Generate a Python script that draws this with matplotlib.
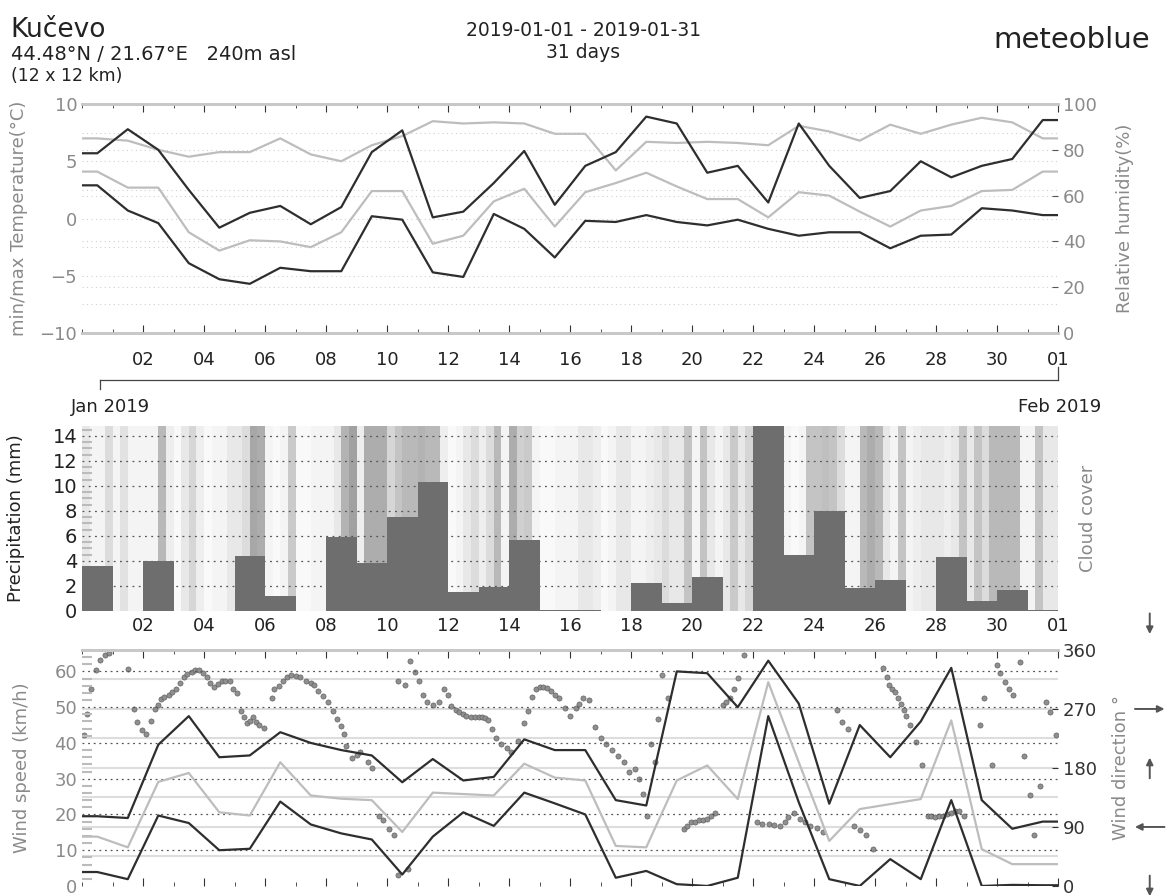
import matplotlib
matplotlib.use("Agg")
import matplotlib.pyplot as plt
import numpy as np
from matplotlib.colors import LinearSegmentedColormap
from matplotlib.ticker import MultipleLocator
import matplotlib.transforms as mtransforms

# --- data, one value per day, 32 days on the axis ---
temp_max = [5.7, 7.8, 6.0, 2.5, -0.8, 0.5, 1.1, -0.5, 1.0, 5.8, 7.7, 0.1, 0.6, 3.1, 5.9, 1.2,
            4.6, 5.8, 8.9, 8.3, 4.0, 4.6, 1.4, 8.3, 4.6, 1.8, 2.4, 5.0, 3.6, 4.6, 5.2, 8.6]
temp_mean = [4.1, 2.7, 2.7, -1.2, -2.8, -1.9, -2.0, -2.5, -1.2, 2.4, 2.4, -2.2, -1.5, 1.5, 2.6, -0.7,
             2.3, 3.1, 4.0, 2.8, 1.7, 1.7, 0.1, 2.3, 2.0, 0.6, -0.7, 0.7, 1.1, 2.4, 2.5, 4.1]
temp_min = [2.9, 0.7, -0.4, -3.9, -5.3, -5.7, -4.3, -4.6, -4.6, 0.2, -0.1, -4.7, -5.1, 0.4, -0.9, -3.4,
            -0.2, -0.3, 0.3, -0.3, -0.6, -0.1, -0.9, -1.5, -1.2, -1.2, -2.6, -1.5, -1.4, 0.9, 0.7, 0.3]
humidity = [85, 84, 80, 77, 79, 79, 85, 78, 75, 82, 86, 92.5, 91.5, 92, 91.5, 87,
            87, 71, 83.5, 83, 83.5, 83, 82, 90.5, 88, 84, 91, 87, 91, 94, 92, 85]

precip = [3.6, 0, 4.0, 0, 0, 4.4, 1.2, 0, 5.9, 3.8, 7.5, 10.3, 1.5, 1.9, 5.7, 0.1,
          0.1, 0, 2.2, 0.6, 2.7, 0, 16.0, 4.5, 8.0, 1.8, 2.5, 0, 4.3, 0.8, 1.7, 0.1]

# cloud cover per 6 hours (fraction)
cloud = [0.2, 0.1, 0.1, 0.3,  0.1, 0.25, 0.1, 0.1,  0.1, 0.1, 0.6, 0.15,  0.05, 0.2, 0.35, 0.15,
         0.05, 0.1, 0.1, 0.2,  0.2, 0.3, 0.75, 0.7,  0.1, 0.05, 0.1, 0.45,  0.05, 0.05, 0.1, 0.1,
         0.1, 0.2, 0.65, 0.8,  0.15, 0.7, 0.7, 0.7,  0.35, 0.5, 0.6, 0.6,  0.65, 0.6, 0.6, 0.15,
         0.05, 0.1, 0.2, 0.3,  0.15, 0.3, 0.6, 0.1,  0.7, 0.4, 0.45, 0.1,  0.05, 0.05, 0.1, 0.1,
         0.1, 0.2, 0.2, 0.15,  0.05, 0.1, 0.2, 0.2,  0.1, 0.1, 0.15, 0.2,  0.3, 0.2, 0.2, 0.5,
         0.1, 0.5, 0.2, 0.1,  0.2, 0.45, 0.2, 0.35,  0.8, 0.8, 0.8, 0.8,  0.1, 0.05, 0.1, 0.5,
         0.5, 0.55, 0.5, 0.3,  0.1, 0.1, 0.6, 0.7,  0.6, 0.2, 0.1, 0.5,  0.1, 0.15, 0.2, 0.2,
         0.2, 0.15, 0.2, 0.5,  0.2, 0.5, 0.3, 0.6,  0.6, 0.6, 0.6, 0.1,  0.1, 0.5, 0.2, 0.2]

wind_max = [19.5, 19.0, 39.5, 47.5, 36.0, 36.5, 43.0, 40.0, 38.0, 36.5, 29.0, 35.5, 29.5, 30.5, 41.0, 38.0,
            38.0, 24.0, 22.5, 60.0, 59.5, 50.0, 63.0, 51.0, 23.0, 45.0, 36.0, 46.0, 61.0, 24.0, 16.0, 18.0]
wind_mean = [13.8, 10.8, 29.1, 31.6, 20.6, 19.7, 34.6, 25.3, 24.4, 24.0, 15.1, 26.1, 25.7, 25.3, 34.2, 30.3,
             29.5, 11.2, 10.8, 29.5, 33.7, 24.3, 57.0, 34.6, 12.6, 21.5, 22.9, 24.3, 46.3, 10.3, 6.1, 6.1]
wind_min = [3.9, 1.9, 19.7, 17.6, 10.0, 10.4, 23.6, 17.2, 14.7, 13.0, 3.2, 13.8, 20.6, 16.8, 26.1, 23.1,
            20.0, 2.3, 4.2, 0.5, 0.0, 2.3, 47.5, 23.4, 1.9, 0.0, 7.5, 1.9, 24.0, 0.0, 0.3, 0.2]

# wind direction samples: time (days on axis) and direction (deg)
dir_time = [0.05, 0.15, 0.3, 0.45, 0.6, 0.75, 0.9, 1.52, 1.7, 1.8, 1.95, 2.1, 2.27, 2.4, 2.5, 2.58, 2.7,
            2.84, 2.95, 3.09, 3.2, 3.34, 3.45, 3.59, 3.7, 3.84, 3.95, 4.09, 4.2, 4.34, 4.45, 4.6, 4.7,
            4.84, 4.95, 5.09, 5.22, 5.3, 5.4, 5.5, 5.6, 5.7, 5.8, 5.97, 6.22, 6.3, 6.45, 6.6, 6.72,
            6.85, 7.0, 7.15, 7.35, 7.5, 7.6, 7.75, 7.9, 8.05, 8.23, 8.35, 8.48, 8.6, 8.67, 8.86, 9.0,
            9.1, 9.36, 9.5, 9.73, 9.86, 10.05, 10.24, 10.36, 10.68, 10.36, 10.6, 10.74, 10.93, 11.05,
            11.18, 11.3, 11.5, 11.7, 11.87, 12.0, 12.1, 12.25, 12.37, 12.5, 12.6, 12.75, 12.87, 13.0,
            13.1, 13.2, 13.3, 13.44, 13.56, 13.75, 13.94, 14.07, 14.3, 14.5, 14.63, 14.75, 14.88, 15.0,
            15.13, 15.25, 15.38, 15.5, 15.63, 15.82, 16.0, 16.18, 16.3, 16.43, 16.62, 16.81, 17.0,
            17.19, 17.38, 17.57, 17.76, 17.95, 18.14, 18.27, 18.4, 18.53, 18.65, 18.78, 18.9, 19.03,
            19.22, 19.73, 19.85, 19.98, 20.1, 20.24, 20.36, 20.49, 20.62, 20.75, 21.0, 21.12, 21.25,
            21.38, 21.51, 21.7, 22.14, 22.3, 22.52, 22.7, 22.9, 23.05, 23.16, 23.35, 23.54, 23.7,
            23.86, 24.11, 24.3, 24.74, 24.93, 25.12, 25.31, 25.5, 25.69, 25.95, 26.27, 26.38, 26.46,
            26.55, 26.65, 26.75, 26.84, 26.95, 27.03, 27.16, 27.35, 27.54, 27.73, 27.85, 27.98, 28.1,
            28.23, 28.36, 28.49, 28.62, 28.74, 28.93, 29.44, 29.57, 29.82, 30.0, 30.1, 30.26, 30.4,
            30.52, 30.77, 30.9, 31.09, 31.22, 31.41, 31.6, 31.73, 31.92]
dir_deg = [230, 262, 300, 330, 345, 352, 355, 331, 270, 250, 238, 232, 251, 270, 276, 285, 289,
           292, 296, 301, 310, 318, 323, 327, 330, 329, 325, 318, 310, 304, 308, 313, 313,
           312, 300, 294, 267, 258, 249, 252, 257, 250, 246, 241, 286, 300, 305, 313, 318,
           322, 320, 318, 313, 310, 306, 298, 290, 280, 267, 255, 244, 232, 214, 195, 200,
           205, 189, 180, 107, 100, 87, 77, 17, 26, 313, 306, 343, 327, 313,
           292, 281, 276, 280, 300, 292, 274, 268, 265, 262, 260, 258, 257, 257,
           257, 256, 253, 240, 226, 217, 210, 205, 221, 248, 267, 288, 300, 303,
           304, 302, 298, 292, 286, 272, 260, 271, 278, 286, 283, 243, 225,
           217, 207, 199, 189, 174, 179, 163, 140, 107, 217, 189, 255, 322,
           286, 87, 92, 97, 98, 100, 101, 102, 106, 112, 276, 280, 286,
           300, 317, 352, 97, 95, 94, 93, 92, 98, 105, 112, 102, 97,
           92, 89, 82, 268, 250, 240, 92, 85, 77, 56, 332, 318, 306,
           300, 296, 286, 278, 268, 260, 245, 220, 184, 107, 106, 105, 106,
           107, 110, 112, 114, 115, 107, 245, 286, 184, 337, 325, 311, 300,
           291, 342, 199, 138, 77, 153, 281, 266, 230]

day_ticks = np.arange(2, 33, 2)
day_labels = ["02", "04", "06", "08", "10", "12", "14", "16", "18", "20",
              "22", "24", "26", "28", "30", "01"]

n_days = len(temp_max)
t_day = np.arange(n_days) + 0.5
t_ext = np.r_[0, t_day, n_days]


def ext(v):
    v = np.asarray(v, dtype=float)
    return np.r_[v[0], v, v[-1]]


DARK = "#2e2e2e"
LIGHT = "#bdbdbd"
GREY_TXT = "#8a8a8a"
plt.rcParams["font.family"] = "DejaVu Sans"

fig = plt.figure(figsize=(11.67, 8.96), dpi=100)

ax1 = fig.add_axes([0.0703, 0.6283, 0.8363, 0.2556])
ax2 = fig.add_axes([0.0703, 0.3181, 0.8363, 0.2065])
ax3 = fig.add_axes([0.0703, 0.0112, 0.8363, 0.2634])


def style_x(ax, labels=True, pad=4):
    ax.set_xlim(0, n_days)
    ax.set_xticks(day_ticks)
    ax.xaxis.set_minor_locator(MultipleLocator(1))
    if labels:
        ax.set_xticklabels(day_labels, fontsize=13, color="#222222")
    else:
        ax.set_xticklabels([])
    ax.tick_params(axis="x", which="both", direction="in", top=True, bottom=True,
                   color="#333333", pad=pad)
    ax.tick_params(axis="x", which="major", length=6)
    ax.tick_params(axis="x", which="minor", length=3)


# --- temperature / humidity ---
ax1r = ax1.twinx()
ax1.set_ylim(-10, 10)
ax1r.set_ylim(0, 100)
for v in np.arange(-7.5, 10, 2.5):
    ax1.axhline(v, color="#d0d0d0", lw=0.8, ls=(0, (1, 3)), zorder=0)
for v in [20, 40, 60, 80]:
    ax1r.axhline(v, color="#d0d0d0", lw=0.8, ls=(0, (1, 3)), zorder=0)
ax1r.plot(t_ext, ext(humidity), color=LIGHT, lw=1.6, zorder=2)
ax1.plot(t_ext, ext(temp_mean), color=LIGHT, lw=1.6, zorder=3)
ax1.plot(t_ext, ext(temp_max), color=DARK, lw=1.6, zorder=4)
ax1.plot(t_ext, ext(temp_min), color=DARK, lw=1.6, zorder=4)
ax1.set_zorder(ax1r.get_zorder() + 1)
ax1.patch.set_visible(False)
style_x(ax1, pad=13)
ax1.set_yticks([-10, -5, 0, 5, 10])
ax1.tick_params(axis="y", labelsize=13, labelcolor=GREY_TXT, length=0)
ax1r.set_yticks([0, 20, 40, 60, 80, 100])
ax1r.tick_params(axis="y", labelsize=13, labelcolor=GREY_TXT, length=4, color="#555555", direction="in")
ax1.set_ylabel("min/max Temperature(°C)", fontsize=13, color=GREY_TXT)
ax1.yaxis.set_label_coords(-0.055, 0.5)
ax1r.set_ylabel("Relative humidity(%)", fontsize=13, color=GREY_TXT, rotation=90)
ax1r.yaxis.set_label_coords(1.059, 0.5)
for a in (ax1, ax1r):
    a.spines["left"].set_visible(False)
    a.spines["right"].set_visible(False)
    a.spines["top"].set_color("#c8c8c8")
    a.spines["bottom"].set_color("#c8c8c8")
    a.spines["top"].set_linewidth(2)
    a.spines["bottom"].set_linewidth(2)

# date span bracket
fig.add_artist(plt.Line2D([0.0857, 0.9066], [0.576, 0.576], color="#444444", lw=0.9))
fig.add_artist(plt.Line2D([0.0857, 0.0857], [0.576, 0.566], color="#444444", lw=0.9))
fig.add_artist(plt.Line2D([0.9066, 0.9066], [0.576, 0.590], color="#444444", lw=0.9))
fig.text(0.061, 0.546, "Jan 2019", fontsize=13, color="#222222", va="center")
fig.text(0.944, 0.546, "Feb 2019", fontsize=13, color="#222222", va="center", ha="right")

# --- precipitation / cloud cover ---
cc_cmap = LinearSegmentedColormap.from_list("cc", ["#ffffff", "#8a8a8a"])
cloud_edges = np.linspace(0, n_days, len(cloud) + 1)
ax2.pcolormesh(cloud_edges, [0, 20], np.array(cloud)[np.newaxis, :], cmap=cc_cmap,
               vmin=0, vmax=1, zorder=0)
ax2.bar(np.arange(n_days), precip, width=1, align="edge", color="#6e6e6e", zorder=3)
for v in range(2, 15, 2):
    ax2.axhline(v, color="#555555", lw=0.9, ls=(0, (1.5, 3.5)), zorder=2)
ax2.set_ylim(0, 14.8)
ax2.set_yticks(range(0, 15, 2))
ax2.yaxis.set_minor_locator(MultipleLocator(0.5))
ax2.tick_params(axis="y", which="major", labelsize=14, labelcolor="#222222", length=0)
ax2.tick_params(axis="y", which="minor", direction="in", length=7, color="#bbbbbb", width=1.5)
style_x(ax2, pad=4)
ax2.tick_params(axis="x", which="both", top=False, length=0)
ax2.set_ylabel("Precipitation (mm)", fontsize=13, color="#222222")
ax2.yaxis.set_label_coords(-0.058, 0.5)
ax2.text(1.031, 0.5, "Cloud cover", transform=ax2.transAxes, rotation=90, fontsize=13,
         color=GREY_TXT, ha="center", va="center")
for s in ax2.spines.values():
    s.set_visible(False)

# --- wind speed / direction ---
ax3r = ax3.twinx()
ax3.set_ylim(0, 66)
ax3r.set_ylim(0, 360)
for v in range(10, 61, 10):
    ax3.axhline(v, color="#555555", lw=0.9, ls=(0, (1.5, 3)), zorder=1)
for v in [45, 90, 135, 180, 225, 270, 315]:
    ax3r.axhline(v, color="#dddddd", lw=1.5, zorder=0)
ax3.plot(t_ext, ext(wind_mean), color=LIGHT, lw=1.6, zorder=3)
ax3.plot(t_ext, ext(wind_max), color=DARK, lw=1.6, zorder=4)
ax3.plot(t_ext, ext(wind_min), color=DARK, lw=1.6, zorder=4)
ax3r.scatter(dir_time, dir_deg, s=14, color="#8f8f8f", edgecolors="#555555", linewidths=0.4,
             zorder=2)
ax3.set_zorder(ax3r.get_zorder() + 1)
ax3.patch.set_visible(False)
style_x(ax3, labels=False)
ax3.set_yticks(range(0, 61, 10))
ax3.yaxis.set_minor_locator(MultipleLocator(2))
ax3.tick_params(axis="y", which="major", labelsize=13, labelcolor=GREY_TXT, length=0)
ax3.tick_params(axis="y", which="minor", direction="in", length=7, color="#bbbbbb", width=1.5)
ax3r.set_yticks([0, 90, 180, 270, 360])
ax3r.tick_params(axis="y", labelsize=13, labelcolor="#333333", length=4, direction="in",
                 color="#333333")
ax3.set_ylabel("Wind speed (km/h)", fontsize=13, color=GREY_TXT)
ax3.yaxis.set_label_coords(-0.052, 0.5)
ax3r.set_ylabel("Wind direction °", fontsize=13, color=GREY_TXT)
ax3r.yaxis.set_label_coords(1.055, 0.5)
for a in (ax3, ax3r):
    a.spines["left"].set_visible(False)
    a.spines["right"].set_visible(False)
    a.spines["bottom"].set_visible(False)
    a.spines["top"].set_color("#c8c8c8")
    a.spines["top"].set_linewidth(2)

# direction arrows beside the right axis
trans = mtransforms.blended_transform_factory(ax3r.transAxes, ax3r.transData)
arrow_dirs = [400, 270, 180, 90, 0]
arrow_vecs = [(0, -1), (1, 0), (0, 1), (-1, 0), (0, -1)]
for d, (dx, dy) in zip(arrow_dirs, arrow_vecs):
    x0 = 1.094
    ax3r.annotate("", xy=(x0 + dx * 0.018, d + dy * 20), xytext=(x0 - dx * 0.018, d - dy * 20),
                  xycoords=trans, textcoords=trans, annotation_clip=False,
                  arrowprops=dict(arrowstyle="-|>", color="#555555", lw=1.4, mutation_scale=10))

# --- header ---
fig.text(0.009, 0.966, "Kučevo", fontsize=19, color="#222222", va="center")
fig.text(0.009, 0.939, "44.48°N / 21.67°E   240m asl", fontsize=14, color="#222222", va="center")
fig.text(0.009, 0.915, "(12 x 12 km)", fontsize=12.5, color="#222222", va="center")
fig.text(0.5, 0.9665, "2019-01-01 - 2019-01-31", fontsize=13.5, color="#222222",
         va="center", ha="center")
fig.text(0.5, 0.941, "31 days", fontsize=13.5, color="#222222", va="center", ha="center")
fig.text(0.9855, 0.955, "meteoblue", fontsize=21, color="#222222", va="center", ha="right")

fig.savefig("out.png", dpi=100)
